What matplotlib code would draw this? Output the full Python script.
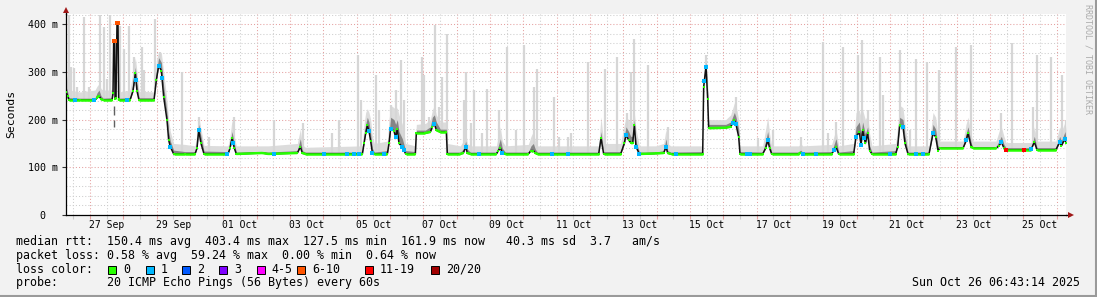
import numpy as np
import matplotlib
matplotlib.use("Agg")
from matplotlib import pyplot as plt
import matplotlib.dates as mdates
from matplotlib.ticker import MultipleLocator, NullFormatter
from matplotlib.collections import LineCollection
from matplotlib.patches import Rectangle
from matplotlib.lines import Line2D
from datetime import datetime, timedelta

# graph window: 30 days ending at the stamp
start = datetime(2025, 9, 26, 6, 43, 14)
stamp = datetime(2025, 10, 26, 6, 43, 14)

# median rtt (ms) at breakpoints, time in days since start
t_med = [0.00, 0.05, 0.09, 0.42, 0.87, 0.93, 0.99, 1.05, 1.11, 1.38,
         1.41, 1.43, 1.46, 1.47, 1.50, 1.53, 1.56, 1.58, 1.59, 1.92,
         2.01, 2.08, 2.13, 2.19, 2.64, 2.71, 2.78, 2.86, 2.93, 3.03,
         3.08, 3.13, 3.23, 3.57, 3.87, 3.93, 3.98, 4.05, 4.14, 4.86,
         4.92, 4.98, 5.05, 5.11, 5.89, 6.07, 6.94, 7.03, 7.09, 7.18,
         8.89, 8.94, 8.99, 9.04, 9.09, 9.14, 9.19, 9.25, 9.64, 9.69,
         9.74, 9.84, 9.89, 9.94, 9.99, 10.09, 10.19, 10.48, 10.51, 10.78,
         10.93, 10.99, 11.05, 11.11, 11.23, 11.41, 11.44, 11.83, 11.92, 11.99,
         12.04, 12.13, 12.91, 12.97, 13.03, 13.09, 13.18, 13.87, 13.95, 14.02,
         14.08, 14.14, 15.98, 16.05, 16.13, 16.64, 16.75, 16.80, 16.88, 16.94,
         17.00, 17.05, 17.10, 17.20, 17.69, 17.93, 18.00, 18.05, 18.14, 19.10,
         19.13, 19.20, 19.25, 19.28, 19.79, 19.94, 20.05, 20.10, 20.18, 20.22,
         20.90, 20.99, 21.05, 21.11, 21.17, 21.98, 22.04, 22.10, 22.97, 23.10,
         23.18, 23.63, 23.70, 23.80, 23.85, 23.90, 23.98, 24.05, 24.11, 24.18,
         24.89, 24.95, 25.01, 25.11, 25.17, 25.26, 25.89, 26.01, 26.09, 26.16,
         26.21, 26.91, 27.00, 27.06, 27.16, 27.21, 27.90, 27.99, 28.06, 28.14,
         28.20, 28.95, 29.05, 29.13, 29.70, 29.81, 29.86, 29.97, 30.00]
med = [258, 250, 241, 241, 241, 246, 250, 243, 241, 241,
       255, 364, 364, 243, 245, 403, 403, 243, 241, 241,
       260, 297, 260, 241, 241, 283, 313, 303, 248, 199,
       157, 143, 128, 128, 128, 140, 178, 150, 128, 128,
       140, 161, 140, 128, 130, 128, 130, 143, 130, 128,
       128, 150, 171, 188, 176, 155, 131, 128, 128, 150,
       181, 176, 163, 181, 150, 143, 128, 128, 172, 172,
       174, 185, 192, 178, 174, 174, 128, 128, 130, 143,
       130, 128, 128, 135, 141, 130, 128, 128, 135, 135,
       130, 128, 128, 161, 128, 128, 150, 168, 157, 152,
       150, 188, 143, 128, 129, 130, 143, 130, 128, 128,
       269, 311, 244, 182, 183, 185, 199, 190, 164, 128,
       128, 140, 157, 140, 128, 128, 131, 128, 128, 143,
       128, 128, 164, 174, 146, 178, 150, 171, 135, 128,
       128, 143, 188, 185, 150, 128, 128, 171, 164, 135,
       140, 140, 155, 171, 143, 140, 140, 145, 153, 140,
       137, 137, 153, 137, 137, 153, 145, 160, 150]
# upper edge of the dark smoke
smoke_dark = [270, 258, 246, 245, 245, 256, 262, 250, 245, 246,
              260, 366, 366, 250, 250, 405, 405, 250, 245, 246,
              275, 310, 275, 246, 246, 300, 330, 320, 270, 215,
              175, 155, 136, 133, 133, 155, 190, 165, 134, 133,
              150, 175, 150, 132, 133, 132, 135, 160, 135, 132,
              132, 165, 190, 205, 195, 170, 140, 132, 135, 170,
              205, 200, 190, 200, 175, 160, 135, 133, 178, 178,
              185, 205, 210, 195, 180, 180, 132, 132, 138, 155,
              138, 132, 132, 145, 160, 140, 132, 132, 145, 150,
              138, 132, 132, 175, 133, 133, 165, 185, 175, 165,
              165, 200, 155, 132, 132, 135, 160, 135, 132, 133,
              285, 320, 260, 190, 190, 195, 215, 205, 180, 133,
              132, 155, 175, 150, 132, 132, 136, 132, 133, 160,
              132, 135, 185, 195, 170, 195, 170, 185, 145, 132,
              135, 160, 205, 200, 165, 132, 132, 190, 180, 145,
              143, 143, 170, 185, 150, 143, 143, 155, 165, 148,
              141, 141, 165, 141, 141, 165, 155, 175, 160]
# upper edge of the light smoke (without the single tall pings)
smoke_hi = [300, 280, 262, 258, 262, 270, 275, 265, 262, 262,
            270, 370, 370, 262, 262, 405, 405, 262, 258, 262,
            300, 330, 300, 260, 258, 325, 342, 340, 300, 240,
            200, 175, 150, 148, 145, 170, 206, 180, 146, 145,
            165, 200, 165, 145, 145, 145, 150, 180, 148, 142,
            145, 190, 215, 223, 215, 200, 165, 150, 155, 200,
            230, 225, 220, 225, 210, 190, 150, 145, 190, 192,
            200, 220, 230, 210, 195, 195, 150, 145, 155, 175,
            150, 145, 145, 165, 185, 155, 145, 148, 165, 175,
            155, 145, 145, 206, 150, 150, 190, 205, 200, 195,
            195, 215, 180, 145, 145, 150, 180, 150, 145, 145,
            300, 335, 280, 200, 200, 210, 235, 230, 200, 145,
            145, 180, 206, 170, 145, 145, 150, 145, 148, 180,
            145, 150, 215, 220, 205, 220, 200, 210, 170, 145,
            150, 185, 230, 225, 190, 145, 145, 215, 205, 165,
            155, 155, 190, 205, 165, 155, 155, 175, 185, 165,
            152, 152, 185, 155, 155, 185, 175, 195, 180]

# single tall pings (light smoke)
spike_t = [0.08, 0.15, 0.23, 0.33, 0.53, 0.68, 1.03, 1.13, 1.23, 1.31,
           1.63, 1.73, 1.88, 2.03, 2.28, 2.33, 2.68, 2.82, 3.48, 3.98,
           4.29, 5.04, 6.24, 7.12, 7.99, 8.19, 8.77, 8.84, 9.31, 9.39,
           9.76, 9.89, 10.04, 10.14, 10.67, 10.74, 10.89, 11.07, 11.19, 11.29,
           11.44, 11.94, 11.99, 12.14, 12.24, 12.49, 12.64, 12.99, 13.24, 13.49,
           13.74, 14.04, 14.14, 14.65, 14.80, 15.07, 15.14, 15.65, 16.17, 16.53,
           16.82, 16.95, 17.05, 17.45, 18.05, 19.20, 20.10, 20.75, 21.20, 22.05,
           22.70, 22.85, 23.10, 23.30, 23.75, 23.88, 24.05, 24.43, 24.50, 25.02,
           25.31, 25.49, 25.83, 26.19, 26.70, 27.16, 28.06, 28.39, 29.01, 29.13,
           29.54, 29.89, 29.99]
spike_top = [419, 311, 309, 269, 415, 269, 419, 394, 286, 419,
             397, 349, 397, 332, 352, 304, 412, 342, 300, 206,
             164, 206, 199, 192, 171, 199, 335, 241, 293, 220,
             230, 262, 325, 241, 332, 293, 206, 398, 227, 290,
             380, 241, 300, 192, 262, 171, 265, 220, 352, 178,
             356, 269, 307, 248, 164, 164, 171, 321, 307, 332,
             213, 300, 370, 314, 185, 335, 248, 161, 178, 164,
             363, 171, 195, 352, 335, 366, 220, 332, 251, 346,
             178, 328, 321, 304, 352, 356, 213, 360, 227, 335,
             332, 293, 199]

# odd low pings under the first spikes
dip_t = [1.45, 1.45]
dip_lo = [185, 210]
dip_hi = [199, 228]

# samples with packet loss
loss1_t = [0.28, 0.83, 1.83, 2.10, 2.78, 2.88, 3.13, 3.98, 4.83, 5.01,
           6.24, 7.74, 8.44, 8.64, 8.79, 9.09, 9.19, 9.54, 9.74, 9.89,
           10.09, 10.14, 11.04, 11.99, 12.39, 13.09, 14.59, 15.05, 16.80, 17.10,
           17.20, 18.00, 18.30, 19.15, 19.20, 20.00, 20.10, 20.42, 20.51, 21.05,
           22.10, 22.49, 23.05, 23.70, 23.85, 23.95, 24.71, 25.11, 25.50, 25.71,
           26.01, 27.01, 28.06, 28.96, 29.81, 29.97]
loss6_t = [1.43, 1.46, 1.53, 1.56]
loss11_t = [28.20, 28.74]

loss_labels = ["0", "1", "2", "3", "4-5", "6-10", "11-19", "20/20"]
loss_colors = ["#26ff00", "#00b8ff", "#0059ff", "#7e00ff",
               "#ff00ff", "#ff5500", "#ff0000", "#a10000"]

rtt_avg, rtt_max, rtt_min, rtt_now, rtt_sd, am_s = 150.4, 403.4, 127.5, 161.9, 40.3, 3.7
loss_avg, loss_max, loss_min, loss_now = 0.58, 59.24, 0.00, 0.64
probe = "20 ICMP Echo Pings (56 Bytes) every 60s"

W, H = 1097, 297
MONO = 'DejaVu Sans Mono'


def fx(x):
    return x / W


def fy(y):
    return 1 - y / H


fig = plt.figure(figsize=(W / 100, H / 100), dpi=100, facecolor='#F2F2F2')
ax = fig.add_axes([fx(66), fy(215), 1000 / W, 201 / H])
ax.set_facecolor('white')

x0 = mdates.date2num(start)
tm = x0 + np.array(t_med)
med_a = np.array(med, dtype=float)

# smoke
ax.fill_between(tm, med_a, smoke_hi, color='#DCDCDC', lw=0, zorder=1)
st = x0 + np.array(spike_t)
ax.vlines(st, np.interp(st, tm, med_a), spike_top, color='#D6D6D6', lw=1.6, zorder=1)
ax.fill_between(tm, med_a, smoke_dark, color='#858585', lw=0, zorder=2)
ax.vlines(x0 + np.array(dip_t), dip_lo, dip_hi, color='#606060', lw=1.0, zorder=2)

# median line, black where it jumps, loss coloured where it sits
ax.plot(tm, med_a, color='#111111', lw=1.1, zorder=3)
segs = []
for i in range(len(tm) - 1):
    if abs(med_a[i + 1] - med_a[i]) <= 4:
        segs.append([(tm[i], med_a[i]), (tm[i + 1], med_a[i + 1])])
ax.add_collection(LineCollection(segs, colors=loss_colors[0], lw=1.8,
                                 zorder=4, capstyle='butt'))
ax.plot(tm, med_a, ls='none', marker='s', ms=2.0, mew=0, color=loss_colors[0], zorder=4)
for times, col in ((loss1_t, loss_colors[1]), (loss6_t, loss_colors[5]),
                   (loss11_t, loss_colors[6])):
    tt = x0 + np.array(times)
    ax.plot(tt, np.interp(tt, tm, med_a), ls='none', marker='s', ms=2.2, mew=0,
            color=col, zorder=5)

# axes, grid
ax.set_xlim(x0, x0 + 30)
ax.set_ylim(0, 421.5)
ax.xaxis.set_major_locator(mdates.DayLocator())
ax.xaxis.set_minor_locator(mdates.HourLocator(byhour=[12]))
ax.xaxis.set_major_formatter(NullFormatter())
ax.xaxis.set_minor_formatter(NullFormatter())
ax.yaxis.set_major_locator(MultipleLocator(100))
ax.yaxis.set_minor_locator(MultipleLocator(20))
ax.set_yticks([0, 100, 200, 300, 400])
ax.set_yticklabels(["  0", "100 m", "200 m", "300 m", "400 m"], family=MONO, fontsize=7.2)
for lbl in ax.get_yticklabels():
    lbl.set_horizontalalignment('left')
ax.tick_params(axis='y', which='major', length=3, width=0.8, pad=24, color='#333333')
ax.tick_params(axis='y', which='minor', length=0)
ax.tick_params(axis='x', which='major', length=3, width=0.8, color='#E5A0A0')
ax.tick_params(axis='x', which='minor', length=3, width=0.8, color='#CCCCCC')
ax.grid(which='major', color='#E5A0A0', ls=(0, (1, 2)), lw=0.75)
ax.grid(which='minor', color='#CDCDCD', ls=(0, (1, 2)), lw=0.75)
ax.set_axisbelow(True)
for side in ('top', 'right'):
    ax.spines[side].set_visible(False)
for side in ('left', 'bottom'):
    ax.spines[side].set_linewidth(0.9)

# axis arrows
ax.plot([0, 0], [1, 1.015], transform=ax.transAxes, color='black', lw=0.9, clip_on=False)
ax.plot([0], [1.018], transform=ax.transAxes, marker='^', ms=4.5, mew=0,
        color='#A01818', clip_on=False)
ax.plot([1, 1.004], [0, 0], transform=ax.transAxes, color='black', lw=0.9, clip_on=False)
ax.plot([1.005], [0], transform=ax.transAxes, marker='>', ms=4.5, mew=0,
        color='#A01818', clip_on=False)

# day labels at noon, every second day
day = datetime(2025, 9, 27, 12)
while day < stamp:
    ax.text(mdates.date2num(day), -0.05, day.strftime('%d %b'), transform=ax.get_xaxis_transform(),
            ha='center', va='center', family=MONO, fontsize=7)
    day += timedelta(days=2)

fig.text(fx(11), fy(114), "Seconds", rotation=90, ha='center', va='center',
         family=MONO, fontsize=8.2)
fig.text(fx(1088), fy(4), "RRDTOOL / TOBI OETIKER", rotation=270, ha='center', va='top',
         family=MONO, fontsize=6, color='#ABABAB')

# legend block
row1 = ("median rtt:  {:.1f} ms avg  {:.1f} ms max  {:.1f} ms min  {:.1f} ms now  "
        "{:5.1f} ms sd  {:.1f}   am/s").format(rtt_avg, rtt_max, rtt_min, rtt_now, rtt_sd, am_s)
row2 = "packet loss: {:.2f} % avg  {:.2f} % max  {:.2f} % min  {:.2f} % now".format(
    loss_avg, loss_max, loss_min, loss_now)
row4 = "probe:       " + probe
txt = dict(family=MONO, fontsize=8.4, va='center', ha='left')
fig.text(fx(15.8), fy(241.7), row1, **txt)
fig.text(fx(15.8), fy(255.7), row2, **txt)
fig.text(fx(15.8), fy(269.3), "loss color:", **txt)
fig.text(fx(15.8), fy(282.7), row4, **txt)
fig.text(fx(1080), fy(282.7), stamp.strftime('%a %b %d %H:%M:%S %Y'),
         family=MONO, fontsize=8.4, va='center', ha='right')

box_x = [108, 145.6, 182.4, 219, 256.7, 297.4, 364.8, 430.7]
for bx, lab, col in zip(box_x, loss_labels, loss_colors):
    fig.add_artist(Rectangle((fx(bx), fy(273.5)), 8 / W, 8 / H, transform=fig.transFigure,
                             facecolor=col, edgecolor='black', lw=0.7))
    fig.text(fx(bx + 15), fy(269.3), lab, **txt)

# frame shading
fig.add_artist(Line2D([0, 1], [fy(296), fy(296)], color='#9A9A9A', lw=1.5, transform=fig.transFigure))
fig.add_artist(Line2D([fx(1096), fx(1096)], [0, 1], color='#9A9A9A', lw=1.5, transform=fig.transFigure))

fig.savefig('out.png', dpi=100, facecolor=fig.get_facecolor())
